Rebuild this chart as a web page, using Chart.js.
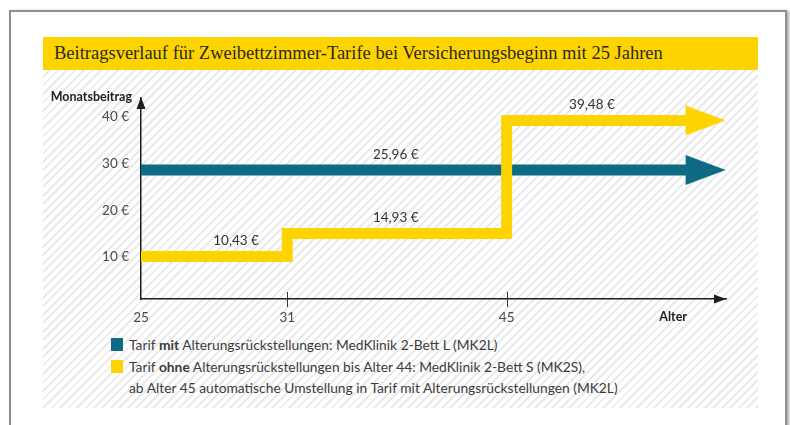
<!DOCTYPE html>
<html>
<head>
<meta charset="utf-8">
<script src="https://cdn.jsdelivr.net/npm/chart.js@4"></script>
<style>
html, body { margin:0; padding:0; background:#fff; width:790px; height:425px; overflow:hidden; }
#frame { position:absolute; left:9px; top:10px; width:778px; height:440px; box-sizing:border-box;
  border:2px solid #8e8e8e; background:#fff; box-shadow:2px 1px 3px rgba(0,0,0,0.35); }
#hatch { position:absolute; left:43px; top:70px; width:715px; height:338px;
  background:repeating-linear-gradient(135deg, #ffffff 0px, #ffffff 4px, #eaeaea 4px, #eaeaea 6px); }
#titlebar { position:absolute; left:43px; top:37px; width:715px; height:33px; background:#fdd400; }
#title { position:absolute; left:54px; top:37px; height:33px; line-height:33px; white-space:nowrap;
  font-family:"Liberation Serif", serif; font-size:18.5px; color:#2b2b2b; }
.lg { position:absolute; left:129px; font-family:Lato, sans-serif; font-size:13.8px; color:#3c3c3c; white-space:nowrap; line-height:16px; }
.sq { position:absolute; left:111px; width:12px; height:13px; }
canvas { position:absolute; left:0; top:0; }
</style>
</head>
<body>
<div id="frame"></div>
<div id="hatch"></div>
<div id="titlebar"></div>
<div id="title">Beitragsverlauf für Zweibettzimmer-Tarife bei Versicherungsbeginn mit 25 Jahren</div>
<div class="sq" style="top:338px;background:#0d6b85;"></div>
<div class="lg" style="top:337px;">Tarif <b>mit</b> Alterungsrückstellungen: MedKlinik 2-Bett L (MK2L)</div>
<div class="sq" style="top:360px;background:#fdd400;"></div>
<div class="lg" style="top:359px;">Tarif <b>ohne</b> Alterungsrückstellungen bis Alter 44: MedKlinik 2-Bett S (MK2S),</div>
<div class="lg" style="top:380px;">ab Alter 45 automatische Umstellung in Tarif mit Alterungsrückstellungen (MK2L)</div>
<canvas id="c" width="790" height="425"></canvas>
<script>
// ---- data (schematic age axis: 25 slots, labelled at the ages shown) ----
const xLabels = ['25','','','','','','31','','','','','','','','','45','','','','','','','','',''];
const yTicks = [10, 20, 30, 40];
// Tarif mit Alterungsrückstellungen (MK2L) – as drawn in the picture
const mk2l = [28.6,null,null,null,null,null,null,null,null,null,null,null,null,null,null,null,null,null,null,null,null,null,null,28.6,null];
// Tarif ohne Alterungsrückstellungen (MK2S -> MK2L ab 45) – as drawn
const mk2s = [10.1,null,null,null,null,null,15.0,null,null,null,null,null,null,null,null,39.2,null,null,null,null,null,null,null,39.2,null];
const valueLabels = ['10,43 €', '14,93 €', '25,96 €', '39,48 €'];
const yAxisTitle = 'Monatsbeitrag';
const xAxisTitle = 'Alter';

const BLUE = '#0d6b85', YELLOW = '#fdd400', AXIS = '#1e1e1e';

function arrowImage(color) {
  const cv = document.createElement('canvas');
  cv.width = 48; cv.height = 30;
  const g = cv.getContext('2d');
  g.fillStyle = color;
  g.beginPath(); g.moveTo(8, 0); g.lineTo(48, 15); g.lineTo(8, 30); g.closePath(); g.fill();
  return cv;
}
const lastIdx = 23;

const decor = {
  id: 'decor',
  afterDatasetsDraw(chart, args, opts) {
    const ctx = chart.ctx, a = chart.chartArea;
    const xs = chart.scales.x, ys = chart.scales.y;
    ctx.save();
    // axis arrows
    ctx.fillStyle = AXIS;
    const ax = a.left;
    ctx.beginPath(); ctx.moveTo(ax, a.top - 1); ctx.lineTo(ax - 4.5, a.top + 11); ctx.lineTo(ax + 4.5, a.top + 11); ctx.closePath(); ctx.fill();
    const ay = a.bottom;
    ctx.beginPath(); ctx.moveTo(a.right, ay); ctx.lineTo(a.right - 12, ay - 4.5); ctx.lineTo(a.right - 12, ay + 4.5); ctx.closePath(); ctx.fill();
    // tick marks at labelled ages (except the origin)
    ctx.strokeStyle = '#333'; ctx.lineWidth = 1;
    xLabels.forEach((l, i) => {
      if (l && i > 0) {
        const px = Math.round(xs.getPixelForValue(i)) + 0.5;
        ctx.beginPath(); ctx.moveTo(px, ay - 7); ctx.lineTo(px, ay + 8); ctx.stroke();
      }
    });
    // axis titles
    ctx.fillStyle = '#1e1e1e';
    ctx.font = 'bold 12.5px Lato, sans-serif';
    ctx.textAlign = 'right'; ctx.textBaseline = 'middle';
    ctx.fillText(yAxisTitle, a.left - 9, a.top - 1);
    ctx.fillText(xAxisTitle, a.right - 39, ay + 18);
    // value labels
    ctx.fillStyle = '#333';
    ctx.font = '13.5px Lato, sans-serif';
    ctx.textAlign = 'center';
    opts.anchors.forEach((an, k) => {
      const v = chart.data.datasets[an.ds].data[an.idx];
      ctx.fillText(valueLabels[k], xs.getPixelForValue(an.slot), ys.getPixelForValue(v) - 15.5);
    });
    ctx.restore();
  }
};

new Chart(document.getElementById('c'), {
  type: 'line',
  data: {
    labels: xLabels,
    datasets: [
      { label: 'MK2S', data: mk2s, borderColor: YELLOW, backgroundColor: YELLOW, borderWidth: 11,
        stepped: 'before', spanGaps: true, borderJoinStyle: 'miter', borderCapStyle: 'butt',
        pointStyle: arrowImage(YELLOW), pointRadius: c => c.dataIndex === lastIdx ? 10 : 0, order: 0 },
      { label: 'MK2L', data: mk2l, borderColor: BLUE, backgroundColor: BLUE, borderWidth: 11,
        spanGaps: true, borderCapStyle: 'butt',
        pointStyle: arrowImage(BLUE), pointRadius: c => c.dataIndex === lastIdx ? 10 : 0, order: 1 }
    ]
  },
  options: {
    responsive: false,
    animation: false,
    events: [],
    layout: { padding: { top: 98, left: 0, right: 64, bottom: 96 } },
    plugins: {
      legend: { display: false }, tooltip: { enabled: false },
      decor: { anchors: [ {ds:0, idx:0, slot:3.9}, {ds:0, idx:6, slot:10.45}, {ds:1, idx:0, slot:10.45}, {ds:0, idx:15, slot:18.5} ] }
    },
    scales: {
      x: {
        type: 'category', offset: false,
        grid: { display: false, drawTicks: false },
        border: { display: true, color: AXIS, width: 1.5 },
        ticks: { autoSkip: false, maxRotation: 0, padding: 11, color: '#4a4a4a', font: { family: 'Lato', size: 13.5 } },
        afterFit: s => { s.height = 30; }
      },
      y: {
        min: 1, max: 44,
        grid: { display: false, drawTicks: false },
        border: { display: true, color: AXIS, width: 1.5 },
        afterBuildTicks: s => { s.ticks = yTicks.map(v => ({ value: v })); },
        ticks: { padding: 12, color: '#4a4a4a', font: { family: 'Lato', size: 13.5 }, callback: v => v + ' €' },
        afterFit: s => { s.width = 141; }
      }
    }
  },
  plugins: [decor]
});
</script>
</body>
</html>
